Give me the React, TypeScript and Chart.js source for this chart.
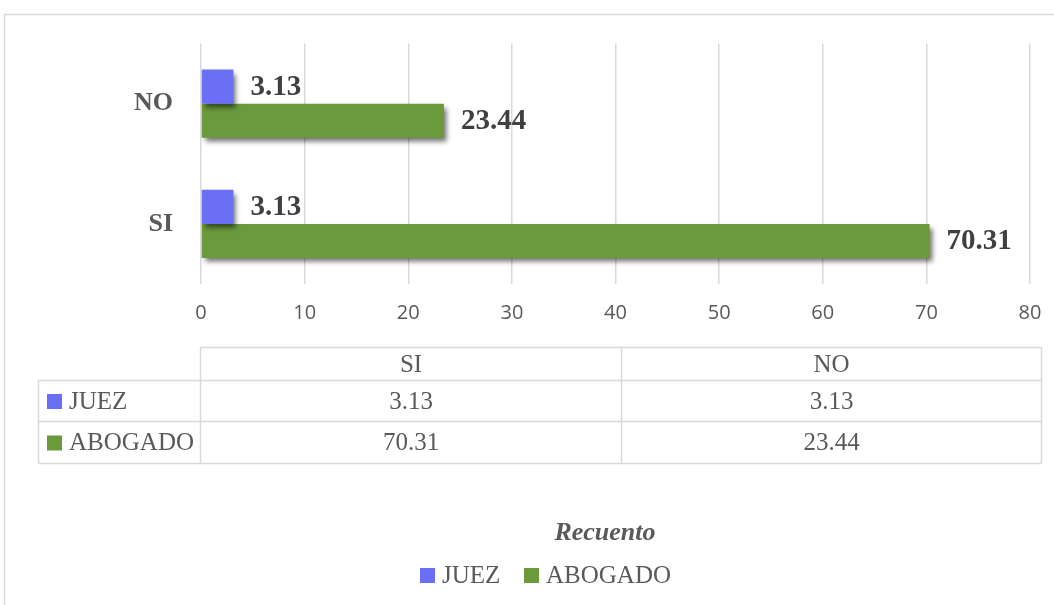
import React, { useEffect, useRef } from 'react';
import { Chart, registerables } from 'chart.js';

Chart.register(...registerables);

const categories = ['SI', 'NO'];
const seriesNames = ['JUEZ', 'ABOGADO'];
const juezValues = [3.13, 3.13];
const abogadoValues = [70.31, 23.44];
const xMin = 0;
const xMax = 80;
const xStep = 10;
const axisTitle = 'Recuento';
const seriesColors = ['#6B6FF6', '#6A9A3B'];

const SERIF = '"Liberation Serif", "DejaVu Serif", serif';
const SANS = '"Open Sans", "Noto Sans", sans-serif';
const W = 1054;
const H = 605;

const fmt = (v: number) => v.toFixed(2);

const excelPlugin = {
  id: 'excelExtras',
  beforeDraw(chart: any) {
    const ctx = chart.ctx;
    ctx.save();
    ctx.fillStyle = '#ffffff';
    ctx.fillRect(0, 0, W, H);
    ctx.strokeStyle = '#d9d9d9';
    ctx.lineWidth = 1.5;
    ctx.strokeRect(4.5, 14.5, W + 20, H + 20);
    ctx.restore();
  },
  beforeDatasetsDraw(chart: any) {
    const ctx = chart.ctx;
    ctx.save();
    ctx.shadowColor = 'rgba(0,0,0,0.55)';
    ctx.shadowBlur = 5;
    ctx.shadowOffsetX = 3;
    ctx.shadowOffsetY = 4;
  },
  afterDatasetsDraw(chart: any) {
    chart.ctx.restore();
  },
  afterDraw(chart: any) {
    const ctx = chart.ctx;
    const area = chart.chartArea;
    ctx.save();
    // data labels
    ctx.font = `bold 29px ${SERIF}`;
    ctx.fillStyle = '#404040';
    ctx.textBaseline = 'middle';
    ctx.textAlign = 'left';
    chart.data.datasets.forEach((ds: any, di: number) => {
      const meta = chart.getDatasetMeta(di);
      meta.data.forEach((bar: any, i: number) => {
        ctx.fillText(fmt(ds.data[i]), bar.x + 17, bar.y + 1);
      });
    });

    // data table
    const left = 38.5;
    const colStart = area.left - 0.5;
    const right = 1041.5;
    const mid = Math.round((colStart + right) / 2) + 0.5;
    const top = 347.5;
    const r1 = 380.5;
    const r2 = 421.5;
    const bottom = 463.5;
    ctx.strokeStyle = '#d9d9d9';
    ctx.lineWidth = 1.5;
    ctx.beginPath();
    ctx.moveTo(colStart, top); ctx.lineTo(right, top);
    ctx.moveTo(left, r1); ctx.lineTo(right, r1);
    ctx.moveTo(left, r2); ctx.lineTo(right, r2);
    ctx.moveTo(left, bottom); ctx.lineTo(right, bottom);
    ctx.moveTo(colStart, top); ctx.lineTo(colStart, bottom);
    ctx.moveTo(mid, top); ctx.lineTo(mid, bottom);
    ctx.moveTo(right, top); ctx.lineTo(right, bottom);
    ctx.moveTo(left, r1); ctx.lineTo(left, bottom);
    ctx.stroke();

    ctx.font = `25px ${SERIF}`;
    ctx.fillStyle = '#595959';
    ctx.textAlign = 'center';
    ctx.textBaseline = 'middle';
    const colCenters = [(colStart + mid) / 2, (mid + right) / 2];
    categories.forEach((c, i) => ctx.fillText(c, colCenters[i], (top + r1) / 2 + 1));
    const rows = [juezValues, abogadoValues];
    const rowCenters = [(r1 + r2) / 2 + 1, (r2 + bottom) / 2 + 1];
    rows.forEach((vals, ri) => {
      vals.forEach((v, ci) => ctx.fillText(fmt(v), colCenters[ci], rowCenters[ri]));
      ctx.fillStyle = seriesColors[ri];
      ctx.fillRect(47, rowCenters[ri] - 8, 15, 15);
      ctx.fillStyle = '#595959';
      ctx.textAlign = 'left';
      ctx.fillText(seriesNames[ri], 69, rowCenters[ri]);
      ctx.textAlign = 'center';
    });

    // axis title
    ctx.font = `italic bold 26px ${SERIF}`;
    ctx.fillStyle = '#595959';
    ctx.textAlign = 'center';
    ctx.fillText(axisTitle, 605, 533);

    // legend
    ctx.font = `25px ${SERIF}`;
    ctx.textAlign = 'left';
    const legY = 576;
    const legX = [420, 524];
    seriesNames.forEach((n, i) => {
      ctx.fillStyle = seriesColors[i];
      ctx.fillRect(legX[i], legY - 8, 15, 15);
      ctx.fillStyle = '#595959';
      ctx.fillText(n, legX[i] + 22, legY);
    });
    ctx.restore();
  },
};

export default function App() {
  const ref = useRef<HTMLCanvasElement>(null);
  useEffect(() => {
    if (!ref.current) return;
    const chart = new Chart(ref.current, {
      type: 'bar',
      data: {
        labels: categories,
        datasets: [
          { label: seriesNames[0], data: juezValues, backgroundColor: seriesColors[0] },
          { label: seriesNames[1], data: abogadoValues, backgroundColor: seriesColors[1] },
        ],
      },
      options: {
        indexAxis: 'y',
        animation: false,
        responsive: false,
        devicePixelRatio: 1,
        categoryPercentage: 0.567,
        barPercentage: 1,
        layout: { padding: { top: 43, right: 24, left: 0, bottom: 0 } },
        plugins: { legend: { display: false }, tooltip: { enabled: false } },
        scales: {
          x: {
            min: xMin,
            max: xMax,
            ticks: {
              stepSize: xStep,
              font: { family: SANS, size: 20 },
              color: '#595959',
              padding: 3,
            },
            grid: {
              color: '#d9d9d9',
              lineWidth: 1.5,
              drawTicks: true,
              tickLength: 14,
              tickColor: 'rgba(0,0,0,0)',
            },
            border: { display: false },
            afterFit: (s: any) => { s.height = H - 284; },
          },
          y: {
            reverse: true,
            ticks: {
              font: { family: SERIF, size: 26, weight: 'bold' },
              color: '#595959',
              padding: 28,
            },
            grid: { display: false, drawTicks: false },
            border: { display: false },
            afterFit: (s: any) => { s.width = 201; },
          },
        },
      } as any,
      plugins: [excelPlugin],
    });
    return () => chart.destroy();
  }, []);
  return (
    <div style={{ position: 'absolute', left: 0, top: 0, width: W, height: H }}>
      <canvas ref={ref} width={W} height={H} style={{ width: W, height: H, display: 'block' }} />
    </div>
  );
}
